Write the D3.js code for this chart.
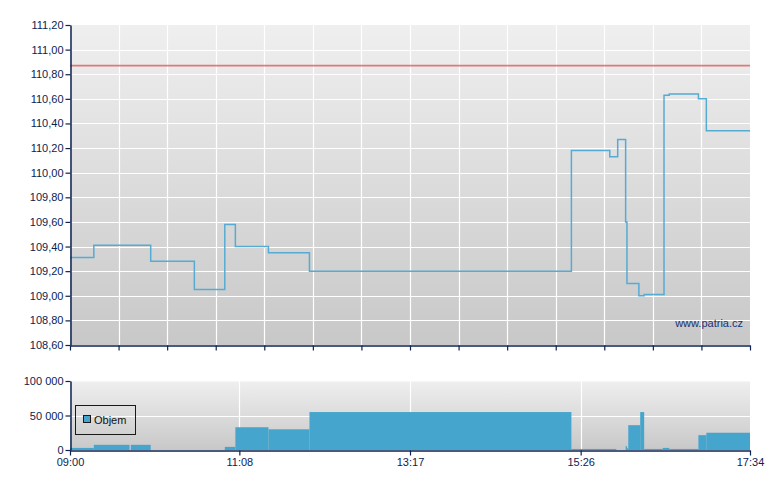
<!DOCTYPE html>
<html><head><meta charset="utf-8">
<script src="https://cdn.jsdelivr.net/npm/d3@7"></script>
<style>
html,body{margin:0;padding:0;background:#fff;}
svg text{font-family:"Liberation Sans",Arial,sans-serif;font-size:11px;}
</style></head>
<body><svg id="c" width="780" height="490"></svg>
<script>
// ---- data ----
const priceTimes = ["09:00","09:18","10:01","10:34","10:57","11:05","11:30","12:01","15:19","15:48","15:54","16:00","16:01","16:10","16:14","16:29","16:33","16:55","17:01"];
const priceValues = [109.31,109.41,109.28,109.05,109.58,109.40,109.35,109.20,110.18,110.13,110.27,109.60,109.10,109.00,109.01,110.63,110.64,110.60,110.34];
const referencePrice = 110.87;
const volStart = ["09:00","09:18","09:46","10:57","11:05","11:30","12:01","15:19","16:00","16:01","16:02","16:11","16:14","16:28","16:33","16:55","17:01"];
const volEnd   = ["09:18","09:45","10:01","11:05","11:30","12:01","15:19","15:53","16:01","16:02","16:11","16:14","16:28","16:33","16:55","17:01","17:34"];
const volValues = [3000,7500,7500,4500,33000,30000,55000,1500,5500,2500,36000,55000,1500,3000,1500,21500,25000];
const priceTicks = [108.6,108.8,109.0,109.2,109.4,109.6,109.8,110.0,110.2,110.4,110.6,110.8,111.0,111.2];
const volTicks = [0,50000,100000];
const timeLabels = ["09:00","11:08","13:17","15:26","17:34"];
const sessionStart = "09:00", sessionEnd = "17:34";
const legendLabel = "Objem";
const watermark = "www.patria.cz";

const toMin = s => { const [h,m] = s.split(":").map(Number); return h*60+m; };
const axisCol = "#0b2352";
const svg = d3.select("#c");

const L = 70, R = 750;
const x = d3.scaleLinear().domain([toMin(sessionStart), toMin(sessionEnd)]).range([L, R]);
const yP = d3.scaleLinear().domain([108.6, 111.2]).range([345, 25]);
const yV = d3.scaleLinear().domain([0, 100000]).range([450, 381]);

const defs = svg.append("defs");
function grad(id){
  const g = defs.append("linearGradient").attr("id", id).attr("x1",0).attr("y1",0).attr("x2",0).attr("y2",1);
  g.append("stop").attr("offset","0%").attr("stop-color","#efefef");
  g.append("stop").attr("offset","100%").attr("stop-color","#c8c8c8");
}
grad("gP"); grad("gV");
defs.append("clipPath").attr("id","clipP").append("rect").attr("x",L).attr("y",25).attr("width",R-L).attr("height",320);
defs.append("clipPath").attr("id","clipV").append("rect").attr("x",L).attr("y",381).attr("width",R-L).attr("height",69);

// ---- price panel ----
svg.append("rect").attr("x",L).attr("y",25).attr("width",R-L).attr("height",320).attr("fill","url(#gP)");
const nV = 14;
const vGrid = d3.range(nV+1).map(i => x.domain()[0] + i*(x.domain()[1]-x.domain()[0])/nV);
const gP = svg.append("g");
gP.selectAll(".hg").data(priceTicks.slice(1,-1)).join("line")
  .attr("x1",L).attr("x2",R).attr("y1",d=>Math.round(yP(d))+0.5).attr("y2",d=>Math.round(yP(d))+0.5)
  .attr("stroke","#fff").attr("stroke-width",1.2);
gP.selectAll(".vg").data(vGrid.slice(1,-1)).join("line")
  .attr("y1",25).attr("y2",345).attr("x1",d=>Math.round(x(d))+0.5).attr("x2",d=>Math.round(x(d))+0.5)
  .attr("stroke","#fff").attr("stroke-width",1.2);

// reference line
gP.append("line").attr("x1",L).attr("x2",R).attr("y1",yP(referencePrice)).attr("y2",yP(referencePrice))
  .attr("stroke","#e06464").attr("stroke-width",1.6).attr("opacity",0.85);

// price line
const pts = priceTimes.map((t,i)=>[toMin(t), priceValues[i]]);
pts.push([toMin(sessionEnd), priceValues[priceValues.length-1]]);
const line = d3.line().x(d=>x(d[0])).y(d=>yP(d[1])).curve(d3.curveStepAfter);
gP.append("path").attr("d", line(pts)).attr("fill","none").attr("stroke","#56abd3")
  .attr("stroke-width",1.5).attr("clip-path","url(#clipP)");

// watermark
svg.append("text").attr("x",743).attr("y",327).attr("text-anchor","end").attr("fill","#1a3272").text(watermark);

// axes price
const axP = d3.axisLeft(yP).tickValues(priceTicks).tickSize(5).tickSizeOuter(0).tickPadding(2)
  .tickFormat(d => d3.format(".2f")(d).replace(".", ","));
const gAxP = svg.append("g").attr("transform",`translate(${L+0.5},0)`).call(axP);
const axPx = d3.axisBottom(x).tickValues(vGrid).tickSize(5).tickSizeOuter(0).tickFormat("");
const gAxPx = svg.append("g").attr("transform",`translate(0,${345.5})`).call(axPx);

// ---- volume panel ----
svg.append("rect").attr("x",L).attr("y",381).attr("width",R-L).attr("height",69).attr("fill","url(#gV)");
const gV = svg.append("g");
gV.append("line").attr("x1",L).attr("x2",R).attr("y1",Math.round(yV(50000))+0.5).attr("y2",Math.round(yV(50000))+0.5)
  .attr("stroke","#fff").attr("stroke-width",1.2);
gV.append("line").attr("x1",L).attr("x2",R).attr("y1",381.5).attr("y2",381.5).attr("stroke","#f6f6f6");
const tl = timeLabels.map(toMin);
gV.selectAll(".vgv").data(tl.slice(1,-1)).join("line")
  .attr("y1",381).attr("y2",450).attr("x1",d=>Math.round(x(d))+0.5).attr("x2",d=>Math.round(x(d))+0.5)
  .attr("stroke","#fff").attr("stroke-width",1.2);
gV.selectAll(".bar").data(volValues).join("rect")
  .attr("x",(d,i)=>x(toMin(volStart[i])))
  .attr("width",(d,i)=>Math.max(0.8, x(toMin(volEnd[i]))-x(toMin(volStart[i]))))
  .attr("y",d=>yV(d)).attr("height",d=>yV(0)-yV(d))
  .attr("fill","#46a5cd").attr("clip-path","url(#clipV)");

const axV = d3.axisLeft(yV).tickValues(volTicks).tickSize(5).tickSizeOuter(0).tickPadding(2)
  .tickFormat(d => d3.format(",")(d).replace(/,/g, " "));
const gAxV = svg.append("g").attr("transform",`translate(${L+0.5},0)`).call(axV);
const axVx = d3.axisBottom(x).tickValues(tl).tickSize(5).tickSizeOuter(0).tickPadding(3)
  .tickFormat((d,i)=>timeLabels[i]);
const gAxVx = svg.append("g").attr("transform",`translate(0,${450.5})`).call(axVx);

[gAxP,gAxPx,gAxV,gAxVx].forEach(g=>{
  g.select(".domain").attr("stroke",axisCol).attr("stroke-width",1.5);
  g.selectAll(".tick line").attr("stroke",axisCol).attr("stroke-width",1.2);
  g.selectAll(".tick text").attr("fill",axisCol).style("font-family",'"Liberation Sans",Arial,sans-serif').style("font-size","11px");
});

// legend
const lg = svg.append("g");
lg.append("rect").attr("x",75.5).attr("y",405.5).attr("width",60).attr("height",29).attr("fill","none").attr("stroke","#1a1a1a");
lg.append("rect").attr("x",83.5).attr("y",415.5).attr("width",7).attr("height",7).attr("fill","#46a5cd").attr("stroke","#1a1a1a");
lg.append("text").attr("x",94).attr("y",424).attr("fill","#111").text(legendLabel);
</script></body></html>
